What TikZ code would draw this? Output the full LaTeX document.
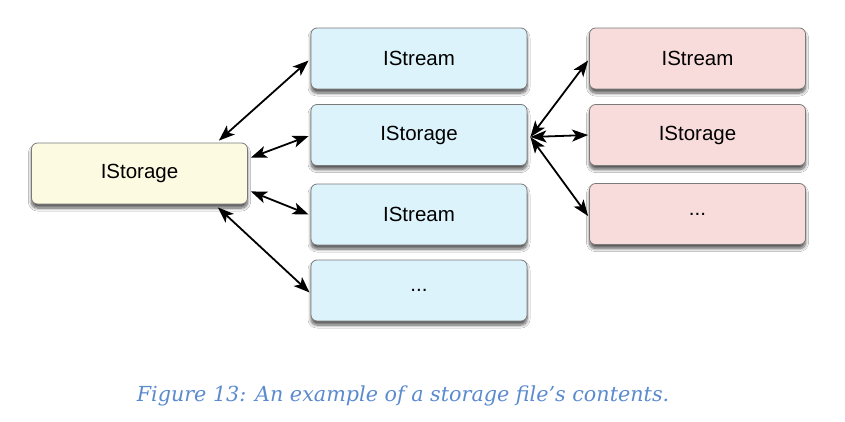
\documentclass[tikz,border=0pt]{standalone}
\usepackage{fontspec}
\setmainfont{Liberation Sans}
\newfontfamily\capfont{DejaVu Serif}
\usetikzlibrary{arrows.meta,shadows.blur}
\definecolor{boxyellow}{HTML}{FCFBE2}
\definecolor{boxblue}{HTML}{DDF3FB}
\definecolor{boxpink}{HTML}{F7DCDB}
\definecolor{boxedge}{HTML}{7A7A7A}
\definecolor{capblue}{HTML}{5B8BCF}
\tikzset{
  box/.style={draw=boxedge, line width=0.8pt, rounded corners=6pt,
    minimum width=216pt, minimum height=61pt, inner sep=0pt,
    font=\fontsize{20.5}{23}\selectfont,
    blur shadow={shadow xshift=0pt, shadow yshift=-4pt, shadow blur steps=8, shadow opacity=65, shadow blur radius=3pt}},
  ybox/.style={box, fill=boxyellow},
  bbox/.style={box, fill=boxblue},
  pbox/.style={box, fill=boxpink},
  tip/.tip={Stealth[length=16pt,width=12pt,inset=4pt]},
  link/.style={tip-tip, line width=1.8pt, black}
}
\begin{document}
\begin{tikzpicture}[x=1pt,y=-1pt]
\useasboundingbox (0,0) rectangle (845,421);
\fill[white] (0,0) rectangle (845,421);
\node[ybox] (root) at (139.5,173.5) {IStorage};
\node[bbox] (b1) at (419,58.5) {IStream};
\node[bbox] (b2) at (419,135) {IStorage};
\node[bbox] (b3) at (419,214.5) {IStream};
\node[bbox] (b4) at (419,290.5) {...};
\node[pbox] (p1) at (697.5,58.5) {IStream};
\node[pbox] (p2) at (697.5,135) {IStorage};
\node[pbox] (p3) at (697.5,214) {...};
\coordinate (r1) at ([xshift=-29pt,yshift=2pt]root.north east);
\coordinate (r2) at ([xshift=3pt,yshift=-15pt]root.north east);
\coordinate (r3) at ([xshift=3pt,yshift=13pt]root.south east);
\coordinate (r4) at ([xshift=-30pt,yshift=-3pt]root.south east);
\draw[link] (r1) -- ([xshift=-2pt,yshift=-2pt]b1.west);
\draw[link] (r2) -- ([xshift=-2pt,yshift=-1pt]b2.west);
\draw[link] (r3) -- ([xshift=-2pt]b3.west);
\draw[link] (r4) -- ([xshift=-1pt,yshift=-2pt]b4.west);
\coordinate (s) at ([xshift=3pt,yshift=-2pt]b2.east);
\draw[link] (s) -- ([xshift=-1pt,yshift=-2pt]p1.west);
\draw[link] (s) -- ([xshift=-1pt]p2.west);
\draw[link] (s) -- ([xshift=-1pt,yshift=-2pt]p3.west);
\node[text=capblue, font=\capfont\itshape\fontsize{20.7}{24}\selectfont] (cap) at (403,396) {Figure 13: An example of a storage file’s contents.};
\end{tikzpicture}
\end{document}
